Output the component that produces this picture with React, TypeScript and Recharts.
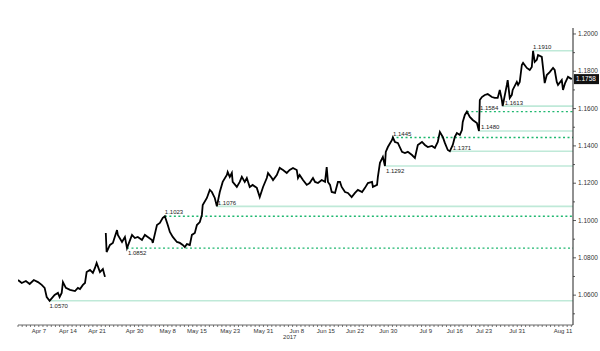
import { ComposedChart, Line, XAxis, YAxis, ReferenceLine } from "recharts";

// days counted from Apr 1 2017 (Apr 7 = 6)
const days = [
  1.0, 1.9, 2.9, 3.8, 4.8, 5.8, 6.7, 7.4, 7.9, 8.6, 9.8, 10.6, 11.0, 11.5, 11.8, 12.5, 13.5, 14.7, 15.4, 15.9,
  16.6, 17.1, 17.5, 18.3, 19.0, 19.5, 19.9, 20.7, 21.4, 21.9, 22.0,
  22.1, 22.3, 23.1, 23.8, 24.8, 25.0, 26.0, 26.7, 27.2, 28.4, 29.1, 29.8, 30.8, 31.5, 32.2, 33.2, 33.4, 34.4,
  35.1, 35.8, 36.3, 37.0, 37.5, 38.2, 39.2, 39.9, 40.6, 41.1, 41.6, 42.3, 42.8, 43.5, 44.0, 44.7, 45.2, 45.4,
  46.4, 47.1, 47.6, 48.3, 48.8, 49.5, 50.2, 51.2, 51.4, 51.9, 52.4, 52.6, 53.6, 54.3, 54.8, 55.5, 56.0, 56.7,
  57.4, 58.4, 59.1, 59.9, 60.8, 61.1, 62.0, 62.3, 63.2, 63.9, 64.7, 65.6, 66.3, 67.1, 68.0, 68.3, 68.7, 69.5,
  70.4, 71.1, 71.9, 72.4, 73.1, 74.0, 74.8, 75.2, 75.5, 76.0, 76.4, 77.2, 77.9, 78.4, 78.8, 79.6, 80.3, 81.2,
  82.0, 82.7, 83.7, 84.4, 85.1, 86.1, 86.3, 87.3, 87.5, 88.0, 88.7, 89.2, 89.4, 89.9, 90.9, 91.1, 91.6, 92.3,
  93.3, 94.0, 94.7, 95.7, 96.4, 97.1, 98.1, 98.8, 99.5, 100.5, 101.2, 101.9, 102.4, 103.1, 103.6, 104.3, 104.8,
  105.5, 106.0, 106.5, 107.2, 107.7, 107.9, 108.4, 108.9, 109.6, 110.3, 111.3, 111.8, 112.0, 112.5, 113.2,
  113.9, 114.9, 115.6, 116.3, 116.8, 117.3, 117.5, 118.5, 118.7, 119.2, 119.7, 119.9, 120.9, 121.2, 121.6,
  122.1, 122.4, 123.3, 124.0, 124.5, 124.8, 125.2, 125.7, 126.0, 126.9, 127.2, 127.6, 128.1, 128.8, 129.6,
  130.0, 130.5, 130.8, 131.7, 132.0, 132.5, 133.2, 134.1,
];

const eurusd: (number | null)[] = [
  1.0681, 1.0665, 1.0676, 1.066, 1.0681, 1.067, 1.0655, 1.0639, 1.059, 1.057, 1.0601, 1.0612, 1.059, 1.0612,
  1.067, 1.0639, 1.0628, 1.0622, 1.0639, 1.0633, 1.0655, 1.0665, 1.0724, 1.0735, 1.0719, 1.0746, 1.0773,
  1.0724, 1.074, 1.0698, null,
  1.0933, 1.0831, 1.0869, 1.088, 1.0949, 1.0923, 1.0885, 1.0912, 1.0852, 1.0923, 1.0906, 1.0912, 1.0896,
  1.0923, 1.0912, 1.0896, 1.088, 1.0976, 1.0987, 1.1014, 1.1023, 1.0976, 1.0939, 1.0912, 1.0885, 1.088,
  1.0869, 1.0858, 1.0874, 1.0869, 1.0923, 1.0933, 1.0976, 1.0992, 1.103, 1.1083, 1.1121, 1.1164, 1.1153,
  1.1121, 1.1076, 1.1153, 1.1207, 1.1244, 1.126, 1.1234, 1.1255, 1.1207, 1.118, 1.1207, 1.1234, 1.1207,
  1.1228, 1.118, 1.1191, 1.1175, 1.1126, 1.118, 1.1228, 1.1255, 1.1228, 1.1217, 1.1244, 1.1282, 1.1271,
  1.1255, 1.1271, 1.1282, 1.1271, 1.1228, 1.1244, 1.1217, 1.1191, 1.1201, 1.1228, 1.1207, 1.1201, 1.1217,
  1.1207, 1.1287, 1.1207, 1.1191, 1.1153, 1.1148, 1.1207, 1.1207, 1.118, 1.1153, 1.1148, 1.1126, 1.1148,
  1.1164, 1.1153, 1.1175, 1.1201, 1.1207, 1.118, 1.1191, 1.1234, 1.1309, 1.1341, 1.1292, 1.1368, 1.1394,
  1.1432, 1.1445, 1.1421, 1.1416, 1.1368, 1.1362, 1.1368, 1.1351, 1.1335, 1.1405, 1.1421, 1.1405, 1.1394,
  1.14, 1.1389, 1.1421, 1.1475, 1.1448, 1.1416, 1.1378, 1.1371, 1.1405, 1.1448, 1.1469, 1.1459, 1.1485,
  1.1528, 1.1566, 1.1584, 1.1555, 1.1539, 1.1523, 1.148, 1.1646, 1.1662, 1.1673, 1.1678, 1.1662, 1.1657,
  1.1657, 1.17, 1.1646, 1.1613, 1.1727, 1.1753, 1.1657, 1.1673, 1.17, 1.1743, 1.1727, 1.1743, 1.1834,
  1.1845, 1.1818, 1.1807, 1.1823, 1.191, 1.185, 1.1861, 1.1887, 1.1877, 1.1818, 1.1737, 1.178, 1.1796,
  1.1818, 1.1807, 1.1743, 1.1727, 1.1753, 1.17, 1.1737, 1.177, 1.1758,
];

const xTickDays = [6, 13, 20, 29, 37, 44, 52, 60, 68, 75, 82, 90, 99, 106, 113, 121, 132];
const xTickLabels = [
  "Apr 7", "Apr 14", "Apr 21", "Apr 30", "May 8", "May 15", "May 23", "May 31", "Jun 8",
  "Jun 15", "Jun 22", "Jun 30", "Jul 9", "Jul 16", "Jul 23", "Jul 31", "Aug 11",
];
const yearLabel = "2017";
const yTicks = [1.05, 1.06, 1.07, 1.08, 1.09, 1.1, 1.11, 1.12, 1.13, 1.14, 1.15, 1.16, 1.17, 1.18, 1.19, 1.2];
const yLabelled = [1.06, 1.08, 1.1, 1.12, 1.14, 1.16, 1.18, 1.2];

// horizontal levels: value and the day they start from
const solidLevels = [1.057, 1.1076, 1.1292, 1.1371, 1.148, 1.1613, 1.191];
const solidStarts = [8.6, 48.8, 89.2, 104.8, 111.8, 117.5, 124.8];
const dottedLevels = [1.0852, 1.1023, 1.1445, 1.1584];
const dottedStarts = [27.2, 36.3, 90.9, 108.9];

const lastPrice = 1.1758;

const X_MAX = 134.4;
const minorDays = Array.from({ length: 134 }, (_, i) => i + 1);

const data = days.map((t, i) => ({ t, px: eurusd[i] }));

// label placement per level: [dx, dy from line]
const labelPlace: Record<string, [number, number]> = {
  "1.0570": [0, 7],
  "1.0852": [1, 7],
  "1.1023": [0, -2],
  "1.1076": [1, -1],
  "1.1292": [1, 7],
  "1.1445": [1, -2],
  "1.1371": [3, -1],
  "1.1480": [2, -1.5],
  "1.1584": [13, -2],
  "1.1613": [2, -1],
  "1.1910": [0, -2],
};

const FONT = "'Liberation Sans', Arial, sans-serif";

function levelLabel(text: string) {
  return (props: any) => {
    const vb = props.viewBox || {};
    const [dx, dy] = labelPlace[text] || [0, -2];
    return (
      <text x={vb.x + dx} y={vb.y + dy} fontSize={6} fontFamily={FONT} fill="#222">
        {text}
      </text>
    );
  };
}

function XTick(props: any) {
  const { x, y, payload } = props;
  const idx = xTickDays.indexOf(payload.value);
  return (
    <g>
      <line x1={x} x2={x} y1={y} y2={y + 2} stroke="#555" strokeWidth={0.8} />
      {idx >= 0 && (
        <text x={x} y={y + 8} textAnchor="middle" fontSize={6} fontFamily={FONT} fill="#333">
          {xTickLabels[idx]}
        </text>
      )}
      {payload.value === 68 && (
        <text x={x - 7} y={y + 14} textAnchor="middle" fontSize={6} fontFamily={FONT} fill="#333">
          {yearLabel}
        </text>
      )}
    </g>
  );
}

function YTick(props: any) {
  const { x, y, payload } = props;
  const labelled = yLabelled.some((v) => Math.abs(v - payload.value) < 1e-6);
  return (
    <g>
      <line x1={x} x2={x + (labelled ? 3 : 2)} y1={y} y2={y} stroke="#333" strokeWidth={0.8} />
      {labelled && (
        <text x={x + 5} y={y + 2} fontSize={6.5} fontFamily={FONT} fill="#333">
          {payload.value.toFixed(4)}
        </text>
      )}
    </g>
  );
}

function LastBadge(props: any) {
  const vb = props.viewBox || {};
  const left = vb.x + vb.width + 1;
  return (
    <g>
      <rect x={left} y={vb.y - 5} width={25} height={10} fill="#111" />
      <text x={left + 2} y={vb.y + 2.3} fontSize={6.5} fontFamily={FONT} fill="#fff">
        {lastPrice.toFixed(4)}
      </text>
    </g>
  );
}

export default function App() {
  return (
    <div style={{ position: "absolute", left: 0, top: 0, background: "#fff" }}>
      <ComposedChart
        width={600}
        height={351}
        data={data}
        margin={{ top: 28, right: 0, left: 18, bottom: 0 }}
      >
        <XAxis
          dataKey="t"
          type="number"
          domain={[1, X_MAX]}
          allowDataOverflow
          ticks={minorDays}
          interval={0}
          tick={<XTick />}
          tickLine={false}
          tickSize={0}
          tickMargin={0}
          height={26}
          axisLine={{ stroke: "#444", strokeWidth: 0.8 }}
        />
        <YAxis
          orientation="right"
          type="number"
          domain={[1.044, 1.2032]}
          allowDataOverflow
          ticks={yTicks}
          interval={0}
          tick={<YTick />}
          tickLine={false}
          tickSize={0}
          tickMargin={0}
          width={27}
          axisLine={{ stroke: "#222", strokeWidth: 1 }}
        />
        {solidLevels.map((v, i) => (
          <ReferenceLine
            key={"s" + v}
            segment={[
              { x: solidStarts[i], y: v },
              { x: X_MAX, y: v },
            ]}
            stroke="#bfe9d8"
            strokeWidth={1.6}
            ifOverflow="visible"
            label={levelLabel(v.toFixed(4))}
          />
        ))}
        {dottedLevels.map((v, i) => (
          <ReferenceLine
            key={"d" + v}
            segment={[
              { x: dottedStarts[i], y: v },
              { x: X_MAX, y: v },
            ]}
            stroke="#1fb870"
            strokeWidth={1.3}
            strokeDasharray="2 2.5"
            ifOverflow="visible"
            label={levelLabel(v.toFixed(4))}
          />
        ))}
        <ReferenceLine y={lastPrice} stroke="none" ifOverflow="visible" label={LastBadge} />
        <Line
          dataKey="px"
          type="linear"
          stroke="#000"
          strokeWidth={1.8}
          dot={false}
          connectNulls={false}
          isAnimationActive={false}
        />
      </ComposedChart>
    </div>
  );
}
